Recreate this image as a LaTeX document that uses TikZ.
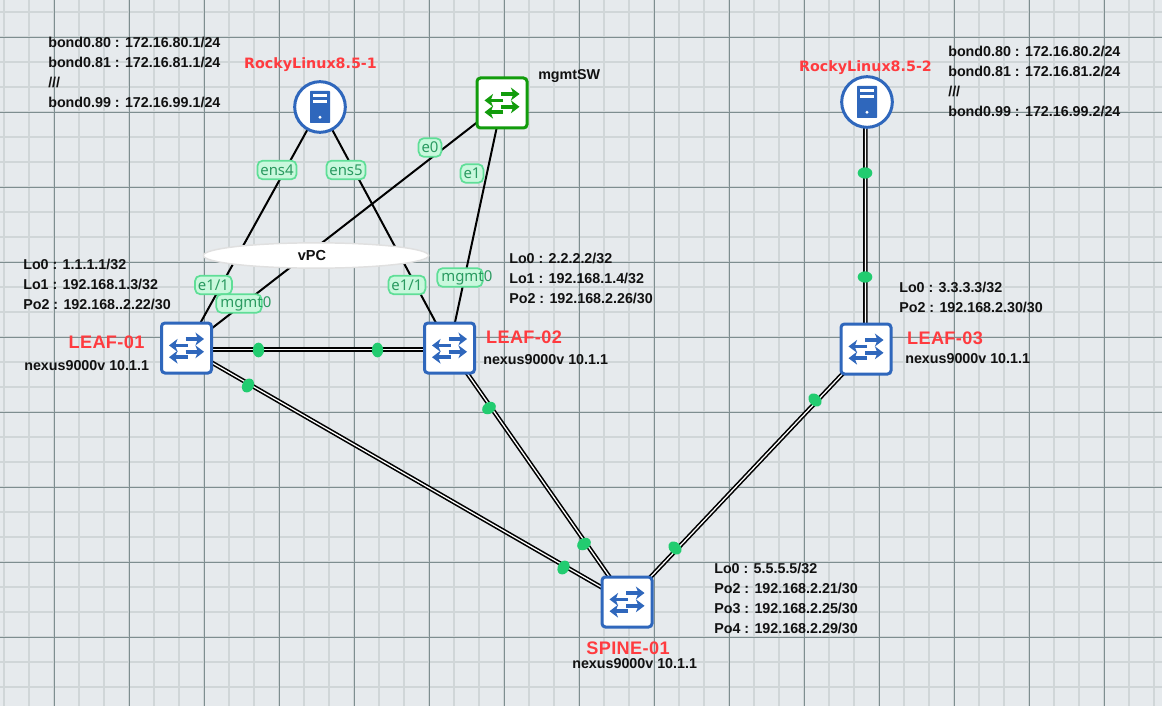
\documentclass[tikz,border=0pt]{standalone}
\usepackage{fontspec}
\setmainfont{Liberation Sans}
\newfontfamily\rockyfont{DejaVu Sans}
\newfontfamily\leaffont[LetterSpace=2]{Liberation Sans}
\newfontfamily\labfont{Noto Sans}
\usetikzlibrary{arrows.meta,shapes.geometric}
\pgfdeclarelayer{gridlayer}
\pgfdeclarelayer{edgelayer}
\pgfsetlayers{gridlayer,edgelayer,main}
\definecolor{bgc}{HTML}{E6EAED}
\definecolor{minorc}{HTML}{D0D6D8}
\definecolor{majorc}{HTML}{7E8E90}
\definecolor{swblue}{HTML}{2F67BC}
\definecolor{swgreen}{HTML}{129C0C}
\definecolor{dotc}{HTML}{22CC70}
\definecolor{labfill}{HTML}{C9F8DD}
\definecolor{labdraw}{HTML}{5FDE97}
\definecolor{labtext}{HTML}{2A9A60}
\definecolor{redc}{HTML}{FF3B3F}
\definecolor{notec}{HTML}{111111}
\tikzset{
  swbox/.style={draw=#1,fill=white,line width=2.25pt,rounded corners=2.6pt,minimum size=37.5pt,inner sep=0pt},
  hostcirc/.style={circle,draw=swblue,fill=white,line width=2.25pt,minimum size=38pt,inner sep=0pt},
  sgl/.style={draw=black,line width=1.5pt},
  dbl/.style={draw=black,line width=1.2pt,double=white,double distance=.95pt},
  dotn/.style={ellipse,fill=dotc,minimum width=8.5pt,minimum height=11pt,inner sep=0pt},
  lab/.style={draw=labdraw,fill=labfill,line width=1.3pt,rounded corners=4pt,text=labtext,font=\labfont\fontsize{11.2pt}{12pt}\selectfont,inner ysep=1.4pt,inner xsep=2.2pt,minimum height=14pt},
  note/.style={anchor=west,align=left,text=notec,font=\bfseries\fontsize{10.72pt}{15pt}\selectfont,inner sep=0pt},
  rocky/.style={text=redc,font=\rockyfont\bfseries\fontsize{10.7pt}{13pt}\selectfont,inner sep=0pt},
  leafn/.style={text=redc,font=\leaffont\bfseries\fontsize{13.6pt}{15pt}\selectfont,inner sep=0pt},
  vpcn/.style={ellipse,draw=black!12,fill=white,line width=1.1pt,minimum width=169pt,minimum height=19pt,inner sep=0pt},
  swarrow/.style={line width=2.6pt,-{Stealth[length=6.4pt,width=9.6pt,inset=1.8pt]}},
  swicon/.pic={
    \draw[swarrow,draw=#1,fill=#1] (-1,-9)--(17.5,-9);
    \draw[swarrow,draw=#1,fill=#1] (-1,3.8)--(17.5,3.8);
    \draw[swarrow,draw=#1,fill=#1] (1,-2.6)--(-17.5,-2.6);
    \draw[swarrow,draw=#1,fill=#1] (1,9.2)--(-17.5,9.2);
  },
  srvicon/.pic={
    \fill[swblue,rounded corners=.4pt] (-10,-16) rectangle (10,16);
    \fill[white] (-7,-12.6) rectangle (7,-10);
    \fill[white] (-7,-6.8) rectangle (7,-4.2);
    \fill[white] (0,10.3) circle (1.6);
  }
}
\begin{document}
\begin{tikzpicture}[x=.75pt,y=-.75pt]
\useasboundingbox (0,0) rectangle (1162,706);
\begin{pgfonlayer}{gridlayer}
  \fill[bgc] (0,0) rectangle (1162,706);
  \foreach \gx in {4,29,...,1154} \draw[minorc,line width=.8pt] (\gx,0)--(\gx,706);
  \foreach \gy in {12,37,...,700} \draw[minorc,line width=.8pt] (0,\gy)--(1162,\gy);
  \foreach \gx in {54,129,...,1154} \draw[majorc,line width=.7pt] (\gx,0)--(\gx,706);
  \foreach \gy in {37,112,...,700} \draw[majorc,line width=.7pt] (0,\gy)--(1162,\gy);
\end{pgfonlayer}

\node[swbox=swblue] (leaf1) at (186.5,348) {};
\node[swbox=swblue] (leaf2) at (449.5,348) {};
\node[swbox=swblue] (leaf3) at (866,349) {};
\node[swbox=swblue] (spine) at (627,602) {};
\node[swbox=swgreen] (mgmt) at (502,103) {};
\node[hostcirc] (rocky1) at (320,107) {};
\node[hostcirc] (rocky2) at (867,102) {};

\pic at (leaf1) {swicon=swblue};
\pic at (leaf2) {swicon=swblue};
\pic at (leaf3) {swicon=swblue};
\pic at (spine) {swicon=swblue};
\pic at (mgmt) {swicon=swgreen};
\pic at (rocky1) {srvicon};
\pic at (rocky2) {srvicon};

\begin{pgfonlayer}{edgelayer}
  \draw[sgl] (rocky1.center)--(leaf1.center);
  \draw[sgl] (rocky1.center)--(leaf2.center);
  \draw[sgl] (mgmt.center)--(leaf1.center);
  \draw[sgl] (mgmt.center)--(leaf2.center);
  \draw[dbl] ([yshift=-1.1pt]leaf1.center)--([yshift=-1.1pt]leaf2.center);
  \draw[dbl] (leaf1.center)--(spine.center);
  \draw[dbl] (leaf2.center)--(spine.center);
  \draw[dbl] (leaf3.center)--(spine.center);
  \draw[dbl] ([xshift=-1.2pt]rocky2.center)--([xshift=-.4pt]leaf3.center);
\end{pgfonlayer}

\node[vpcn] (vpc) at (316,255.5) {};
\node[font=\bfseries\fontsize{10.9pt}{13pt}\selectfont,text=notec,inner sep=0pt] (vpct) at (312,255) {vPC};

\node[dotn,rotate=0] (d1) at (258.5,350) {};
\node[dotn,rotate=0] (d2) at (377.5,350) {};
\node[dotn,rotate=-30] (d3) at (248,385.5) {};
\node[dotn,rotate=-30] (d4) at (563.5,567.5) {};
\node[dotn,rotate=-55] (d5) at (489,408) {};
\node[dotn,rotate=-55] (d6) at (584,544) {};
\node[dotn,rotate=45] (d7) at (815,400) {};
\node[dotn,rotate=45] (d8) at (675,548) {};
\node[dotn,rotate=90] (d9) at (865,173) {};
\node[dotn,rotate=90] (d10) at (865,277) {};

\node[lab] (lens4) at (277,170) {ens4};
\node[lab] (lens5) at (346,170) {ens5};
\node[lab] (le0) at (430,147.5) {e0};
\node[lab] (le1) at (472,173.5) {e1};
\node[lab] (le11a) at (213.5,285) {e1/1};
\node[lab] (le11b) at (407,285) {e1/1};
\node[lab,minimum width=34pt,inner xsep=3pt] (lmg1) at (239,303.5) {\makebox[28pt][l]{mgmt0}};
\node[lab,minimum width=34pt,inner xsep=3pt] (lmg2) at (460,277.5) {\makebox[28pt][l]{mgmt0}};

\node[note] (n1) at (48,72) {bond0.80 : 172.16.80.1/24\\bond0.81 : 172.16.81.1/24\\///\\bond0.99 : 172.16.99.1/24};
\node[note] (n2) at (948,81) {bond0.80 : 172.16.80.2/24\\bond0.81 : 172.16.81.2/24\\///\\bond0.99 : 172.16.99.2/24};
\node[note] (n3) at (23,284) {Lo0 : 1.1.1.1/32\\Lo1 : 192.168.1.3/32\\Po2 : 192.168..2.22/30};
\node[note] (n4) at (509,278) {Lo0 : 2.2.2.2/32\\Lo1 : 192.168.1.4/32\\Po2 : 192.168.2.26/30};
\node[note] (n5) at (899,297) {Lo0 : 3.3.3.3/32\\Po2 : 192.168.2.30/30};
\node[note] (n6) at (714,598) {Lo0 : 5.5.5.5/32\\Po2 : 192.168.2.21/30\\Po3 : 192.168.2.25/30\\Po4 : 192.168.2.29/30};
\node[note] (n7) at (538,76) {mgmtSW};
\node[note] (v1) at (24,366) {nexus9000v 10.1.1};
\node[note] (v2) at (483,360) {nexus9000v 10.1.1};
\node[note] (v3) at (905,359) {nexus9000v 10.1.1};
\node[note] (v4) at (572,664) {nexus9000v 10.1.1};

\node[rocky] (r1) at (310.5,65) {RockyLinux8.5-1};
\node[rocky] (r2) at (865.5,68) {RockyLinux8.5-2};
\node[leafn] (t1) at (106.5,342) {LEAF-01};
\node[leafn] (t2) at (524,337) {LEAF-02};
\node[leafn] (t3) at (945,338) {LEAF-03};
\node[leafn] (t4) at (628,648) {SPINE-01};
\end{tikzpicture}
\end{document}
